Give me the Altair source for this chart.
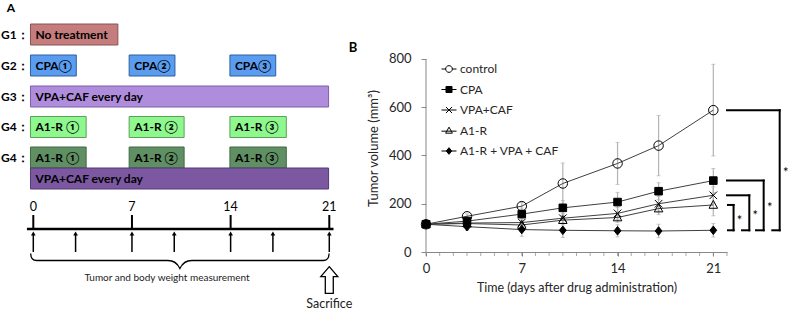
import altair as alt
import pandas as pd

FONT = "Lato"

# ---------------- Panel A data ----------------
group_labels = ["G1：", "G2：", "G3：", "G4：", "G4："]
group_rows = ["G1", "G2", "G3", "G4a", "G4b"]

box_labels = ["No treatment", "CPA①", "CPA②", "CPA③", "VPA+CAF every day",
              "A1-R ①", "A1-R ②", "A1-R ③",
              "A1-R ①", "A1-R ②", "A1-R ③", "VPA+CAF every day"]
box_rows = ["G1", "G2", "G2", "G2", "G3",
            "G4a", "G4a", "G4a",
            "G4b", "G4b", "G4b", "G4b2"]
box_start = [-0.2, -0.2, 6.8, 13.95, -0.2, -0.2, 6.8, 13.95, -0.2, 6.8, 13.95, -0.2]
box_end = [6.0, 3.05, 10.05, 17.2, 20.95, 3.75, 10.7, 17.95, 3.75, 10.7, 17.95, 20.95]
box_fill = ["#c47c7c", "#5a9cf0", "#5a9cf0", "#5a9cf0", "#b08ddc",
            "#8ef78e", "#8ef78e", "#8ef78e",
            "#5f8f62", "#5f8f62", "#5f8f62", "#7b58a0"]
box_stroke = ["#8c5252", "#2f5f9e", "#2f5f9e", "#2f5f9e", "#7d5fa8",
              "#5ca05c", "#5ca05c", "#5ca05c",
              "#3f6a42", "#3f6a42", "#3f6a42", "#54397a"]

timeline_days = [0, 7, 14, 21]
measure_days = [0, 3, 7, 10, 14, 17, 21]
caption = "Tumor and body weight measurement"
end_label = "Sacrifice"

# ---------------- Panel B data ----------------
days = [0, 3, 7, 10, 14, 17, 21]
series = ["control", "CPA", "VPA+CAF", "A1-R", "A1-R + VPA + CAF"]
control_mean = [115, 148, 190, 284, 367, 441, 588]
cpa_mean = [115, 128, 157, 183, 207, 252, 296]
vpa_mean = [115, 120, 122, 140, 160, 200, 235]
a1r_mean = [115, 118, 112, 132, 143, 180, 195]
combo_mean = [115, 105, 93, 90, 88, 87, 90]
control_err = [5, 10, 15, 85, 87, 125, 190]
cpa_err = [5, 15, 25, 30, 40, 35, 50]
vpa_err = [5, 10, 15, 20, 25, 30, 35]
a1r_err = [5, 10, 15, 20, 20, 25, 45]
combo_err = [5, 15, 28, 30, 25, 28, 28]
x_label_days = [0, 7, 14, 21]
x_minor_days = list(range(0, 23))
y_tick_values = list(range(0, 801, 100))

bracket_series = ["control", "CPA", "VPA+CAF", "A1-R"]
bracket_star = ["*", "*", "*", "*"]

# ---------------- layout constants (not data) ----------------
ROW_CENTER = {"G1": 34.5, "G2": 65.5, "G3": 96.5, "G4a": 127.0, "G4b": 157.5, "G4b2": 178.5}
BOX_HALF = 10.5
BRACKET_X = [25.85, 24.68, 23.63, 22.48]
BRACKET_TOP_START = [22.0, 22.0, 22.0, 22.07]
BRACKET_BOT_START = [25.31, 24.12, 23.10, 22.07]

sxA = alt.Scale(domain=[-2.3625, 21.76], nice=False, zero=False)
syA = alt.Scale(domain=[0, 310], reverse=True, nice=False, zero=False)


def XA(f):
    return alt.X(f, type="quantitative", scale=sxA, axis=None)


def YA(f):
    return alt.Y(f, type="quantitative", scale=syA, axis=None)


boxes_df = pd.DataFrame({
    "label": box_labels,
    "start": box_start,
    "end": box_end,
    "fill": box_fill,
    "stroke": box_stroke,
    "mid": [ROW_CENTER[r] for r in box_rows],
})
boxes_df["top"] = boxes_df["mid"] - BOX_HALF
boxes_df["bot"] = boxes_df["mid"] + BOX_HALF

rects = alt.Chart(boxes_df).mark_rect(strokeWidth=1).encode(
    x=XA("start"), x2="end", y=YA("top"), y2="bot",
    fill=alt.Fill("fill:N", scale=None), stroke=alt.Stroke("stroke:N", scale=None))
box_text = alt.Chart(boxes_df).mark_text(
    align="left", baseline="middle", dx=5, fontWeight="bold", fontSize=12, color="black"
).encode(x=XA("start"), y=YA("mid"), text="label:N")

grp_df = pd.DataFrame({"label": group_labels, "y": [ROW_CENTER[r] for r in group_rows]})
grp_text = alt.Chart(grp_df).mark_text(
    align="left", baseline="middle", fontWeight="bold", fontSize=12, color="black"
).encode(x=alt.value(1), y=YA("y"), text="label:N")

tl_df = pd.DataFrame({"x0": [-0.45], "x1": [21.3], "y": [229]})
tl_line = alt.Chart(tl_df).mark_rule(strokeWidth=2.5, color="black").encode(
    x=XA("x0"), x2="x1", y=YA("y"))

tick_df = pd.DataFrame({"day": timeline_days, "y0": 215, "y1": 229, "ly": 207,
                        "lab": [str(d) for d in timeline_days]})
tl_ticks = alt.Chart(tick_df).mark_rule(strokeWidth=2, color="black").encode(
    x=XA("day"), y=YA("y0"), y2="y1")
tl_labels = alt.Chart(tick_df).mark_text(fontSize=12.5, baseline="middle", color="black").encode(
    x=XA("day"), y=YA("ly"), text="lab:N")

arr_df = pd.DataFrame({"day": measure_days, "y0": 252, "y1": 235, "yh": 233.5})
arr_shaft = alt.Chart(arr_df).mark_rule(strokeWidth=1.5, color="black").encode(
    x=XA("day"), y=YA("y0"), y2="y1")
arr_head = alt.Chart(arr_df).mark_point(shape="triangle-up", filled=True, size=22,
                                        color="black", opacity=1).encode(
    x=XA("day"), y=YA("yh"))

BRACE = ("M-1,-0.047Q-1,0,-0.96,0H-0.08Q-0.025,0,0,0.054"
         "Q0.025,0,0.08,0H0.96Q1,0,1,-0.047")
brace_df = pd.DataFrame({"x": [10.4], "y": [260.5]})
brace = alt.Chart(brace_df).mark_point(shape=BRACE, size=88983, strokeWidth=1.3,
                                       color="black", opacity=1, filled=False).encode(
    x=XA("x"), y=YA("y"))

cap_df = pd.DataFrame({"x": [9.49], "y": [278], "t": [caption]})
cap_text = alt.Chart(cap_df).mark_text(fontSize=10, baseline="middle", color="#222").encode(
    x=XA("x"), y=YA("y"), text="t:N")

ARROW = "M0,-1L0.64,-0.25H0.3V1H-0.3V-0.25H-0.64Z"
sac_df = pd.DataFrame({"x": [21], "y": [280], "ty": [304], "t": [end_label]})
sac_arrow = alt.Chart(sac_df).mark_point(shape=ARROW, size=708, filled=True, fill="white",
                                         stroke="black", strokeWidth=1.3, opacity=1).encode(
    x=XA("x"), y=YA("y"))
sac_text = alt.Chart(sac_df).mark_text(fontSize=12.5, baseline="middle", color="#222").encode(
    x=XA("x"), y=YA("ty"), text="t:N")

lblA = alt.Chart(pd.DataFrame({"t": ["A"]})).mark_text(
    fontSize=12, fontWeight="bold", baseline="middle", color="black"
).encode(x=alt.value(11), y=alt.value(8), text="t:N")

panelA = alt.layer(rects, box_text, grp_text, tl_line, tl_ticks, tl_labels,
                   arr_shaft, arr_head, brace, cap_text, sac_arrow, sac_text, lblA
                   ).properties(width=340, height=310)

# ---------------- Panel B ----------------
means = [control_mean, cpa_mean, vpa_mean, a1r_mean, combo_mean]
errs = [control_err, cpa_err, vpa_err, a1r_err, combo_err]
rows = []
for s, m, e in zip(series, means, errs):
    for d, mv, ev in zip(days, m, e):
        rows.append({"series": s, "day": d, "mean": mv, "lo": mv - ev, "hi": mv + ev})
dfB = pd.DataFrame(rows)
caps_df = pd.concat([dfB[["series", "day"]].assign(v=dfB["lo"]),
                     dfB[["series", "day"]].assign(v=dfB["hi"])])

sxB = alt.Scale(domain=[0, 22], nice=False, zero=False)
syB = alt.Scale(domain=[-240.4, 1044.5], nice=False, zero=False)

x_axis = alt.Axis(values=x_label_days,
                  tickSize=4, offset=-58, domainColor="#888", tickColor="#888",
                  labelFontSize=13, labelPadding=6, labelFlush=False,
                  labelColor="#262626", grid=False,
                  title="Time (days after drug administration)", titleFontSize=12.5,
                  titleFontWeight="normal", titleColor="#262626", titlePadding=6)
y_axis = alt.Axis(values=y_tick_values,
                  labelExpr="datum.value % 200 === 0 ? datum.label : ''",
                  tickSize=5, domain=False, tickColor="#888", grid=False,
                  labelFontSize=13, labelPadding=10, labelFlush=False, labelOverlap=False,
                  labelColor="#262626",
                  title="Tumor volume (mm³)", titleFontSize=13, titleFontWeight="normal",
                  titleColor="#262626", titleX=-46, titleY=148)

XB = alt.X("day:Q", scale=sxB, axis=x_axis)
YB = alt.Y("mean:Q", scale=syB, axis=y_axis)

base = alt.Chart(dfB)
yline = alt.Chart(pd.DataFrame({"a": [0]})).mark_rule(color="#888", strokeWidth=1).encode(
    x=alt.datum(0), y=alt.datum(0), y2=alt.datum(800))
minor = alt.Chart(pd.DataFrame({"day": x_minor_days})).mark_tick(
    orient="vertical", size=4, thickness=1, color="#888", yOffset=2).encode(
    x=XB, y=alt.datum(0))
errbar = base.mark_rule(color="#b3b3b3", strokeWidth=1.2).encode(
    x=XB, y=alt.Y("lo:Q", scale=syB, axis=y_axis), y2="hi:Q")
caps = alt.Chart(caps_df).mark_tick(orient="horizontal", size=4, thickness=1,
                                    color="#b3b3b3").encode(
    x=XB, y=alt.Y("v:Q", scale=syB, axis=y_axis))
lines = base.mark_line(color="#404040", strokeWidth=1).encode(
    x=XB, y=YB, detail="series:N", order="day:Q")

plot_paths = ["M1,0A1,1,0,1,1,-1,0A1,1,0,1,1,1,0Z",
              "M-0.8,-0.8H0.8V0.8H-0.8Z",
              "M-0.8,-0.8L0.8,0.8M-0.8,0.8L0.8,-0.8",
              "M0,-0.95L0.9,0.7H-0.9Z",
              "M0,-0.9L0.72,0L0,0.9L-0.72,0Z"]
legend_paths = ["M-2.24,0H-1M1,0H2.24M1,0A1,1,0,1,1,-1,0A1,1,0,1,1,1,0Z",
                "M-2.24,0H2.24M-0.9,-0.9H0.9V0.9H-0.9Z",
                "M-2.24,0H2.24M-0.9,-0.9L0.9,0.9M-0.9,0.9L0.9,-0.9",
                "M-2.24,0.2H2.24M0,-1L1,0.8H-1Z",
                "M-2.24,0H2.24M0,-1L0.8,0L0,1L-0.8,0Z"]
fills = ["transparent", "black", "transparent", "transparent", "black"]
strokes = ["black"] * 5

pts = base.mark_point(opacity=1, size=90, strokeWidth=1, stroke="black").encode(
    x=XB, y=YB,
    shape=alt.Shape("series:N", scale=alt.Scale(domain=series, range=plot_paths), legend=None),
    fill=alt.Fill("series:N", scale=alt.Scale(domain=series, range=fills), legend=None))

leg = alt.Legend(orient="none", legendX=17, legendY=63, title=None, labelFontSize=12,
                 labelColor="#262626", symbolSize=45, symbolStrokeWidth=1,
                 rowPadding=8.5, labelOffset=5, padding=0)
legend_layer = base.transform_filter("false").mark_point(
    opacity=1, strokeWidth=1).encode(
    x=XB, y=YB,
    shape=alt.Shape("series:N", scale=alt.Scale(domain=series, range=legend_paths), legend=leg),
    fill=alt.Fill("series:N", scale=alt.Scale(domain=series, range=fills), legend=leg),
    stroke=alt.Stroke("series:N", scale=alt.Scale(domain=series, range=strokes), legend=leg))

last = {s: m[-1] for s, m in zip(series, means)}
bot_v = combo_mean[-1]
br_df = pd.DataFrame({
    "series": bracket_series,
    "xv": BRACKET_X,
    "xt": BRACKET_TOP_START,
    "xb": BRACKET_BOT_START,
    "top": [last[s] for s in bracket_series],
    "bot": bot_v,
    "star": bracket_star,
})
br_df["mid"] = (br_df["top"] + br_df["bot"]) / 2
brX = lambda f: alt.X(f, type="quantitative", scale=sxB, axis=x_axis)
brY = lambda f: alt.Y(f, type="quantitative", scale=syB, axis=y_axis)
br_top = alt.Chart(br_df).mark_rule(strokeWidth=2, color="black", strokeCap="square").encode(
    x=brX("xt"), x2="xv", y=brY("top"))
br_vert = alt.Chart(br_df).mark_rule(strokeWidth=2, color="black", strokeCap="square").encode(
    x=brX("xv"), y=brY("top"), y2="bot")
br_bot = alt.Chart(br_df).mark_rule(strokeWidth=2, color="black", strokeCap="square").encode(
    x=brX("xb"), x2="xv", y=brY("bot"))
br_star = alt.Chart(br_df).mark_text(fontSize=13, dx=6, dy=3, color="black").encode(
    x=brX("xv"), y=brY("mid"), text="star:N")

lblB = alt.Chart(pd.DataFrame({"t": ["B"]})).mark_text(
    fontSize=13, fontWeight="bold", baseline="middle", color="black"
).encode(x=alt.value(-73), y=alt.value(48), text="t:N")

panelB = alt.layer(yline, minor, errbar, caps, lines, pts, legend_layer,
                   br_top, br_vert, br_bot, br_star, lblB
                   ).resolve_scale(shape="independent", fill="independent", stroke="independent"
                                   ).properties(width=301, height=310)

chart = alt.hconcat(panelA, panelB, spacing=86, bounds="flush").resolve_scale(
    fill="independent", shape="independent", stroke="independent", color="independent"
).properties(padding=0).configure(font=FONT).configure_view(stroke=None)

chart.save("out.html", embed_options={"renderer": "svg", "actions": False})
